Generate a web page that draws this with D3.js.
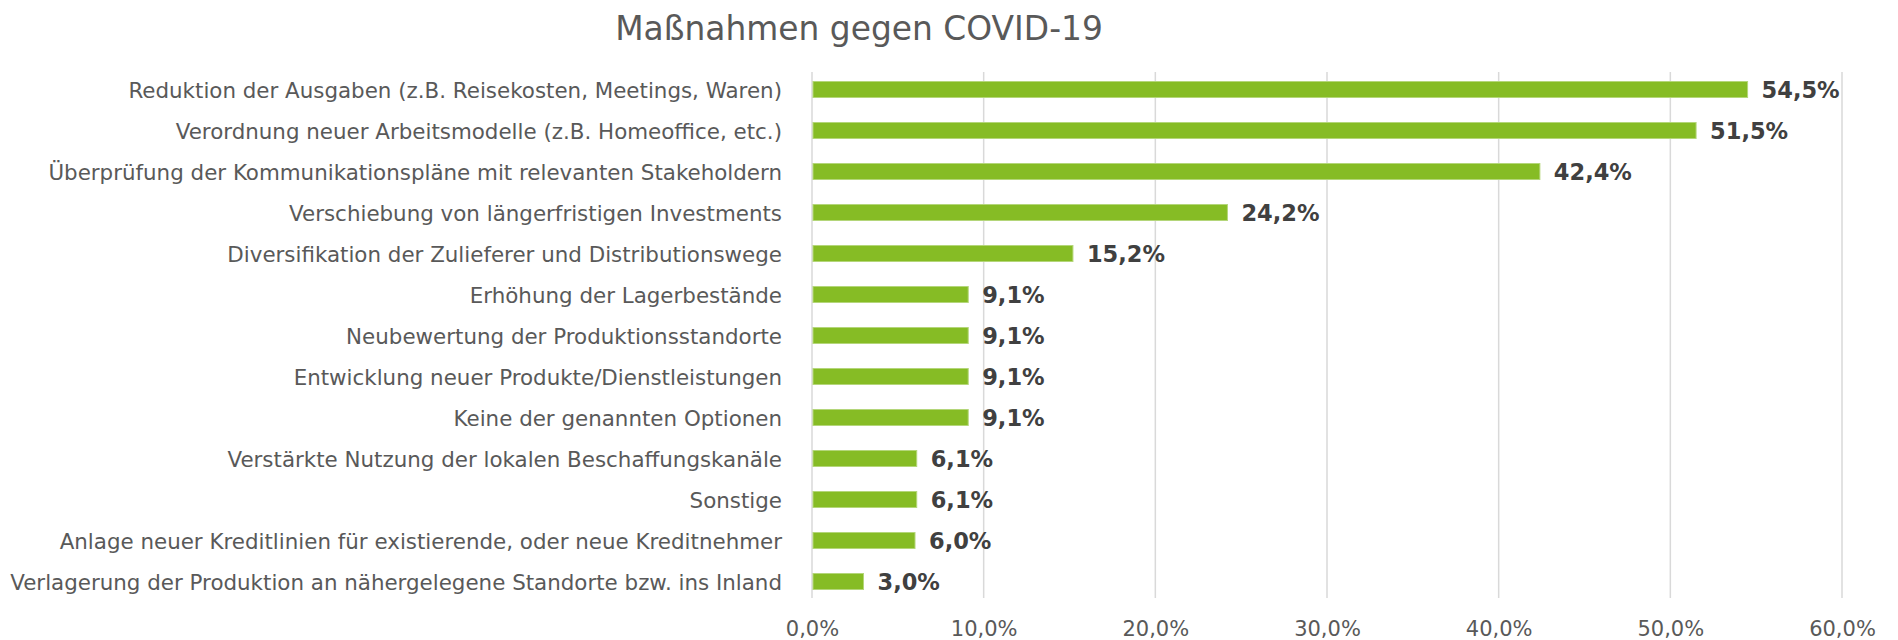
<!DOCTYPE html>
<html>
<head>
<meta charset="utf-8">
<script src="https://cdn.jsdelivr.net/npm/d3@7"></script>
<style>
  body { margin: 0; background: #fff; }
  svg { display: block; font-family: "DejaVu Sans", Verdana, sans-serif; }
</style>
</head>
<body>
<div id="chart"></div>
<script>
var title = "Maßnahmen gegen COVID-19";

var categories = [
  "Reduktion der Ausgaben (z.B. Reisekosten, Meetings, Waren)",
  "Verordnung neuer Arbeitsmodelle (z.B. Homeoffice, etc.)",
  "Überprüfung der Kommunikationspläne mit relevanten Stakeholdern",
  "Verschiebung von längerfristigen Investments",
  "Diversifikation der Zulieferer und Distributionswege",
  "Erhöhung der Lagerbestände",
  "Neubewertung der Produktionsstandorte",
  "Entwicklung neuer Produkte/Dienstleistungen",
  "Keine der genannten Optionen",
  "Verstärkte Nutzung der lokalen Beschaffungskanäle",
  "Sonstige",
  "Anlage neuer Kreditlinien für existierende, oder neue Kreditnehmer",
  "Verlagerung der Produktion an nähergelegene Standorte bzw. ins Inland"
];

var values = [54.5, 51.5, 42.4, 24.2, 15.2, 9.1, 9.1, 9.1, 9.1, 6.1, 6.1, 6.0, 3.0];

var ticks = [0, 10, 20, 30, 40, 50, 60];

var w = 1898, h = 640;
var mLeft = 812, mRight = 1842, mTop = 69, mBottom = 602;

function pct(v) {
  return v.toFixed(1).replace(".", ",") + "%";
}

var svg = d3.select("#chart").append("svg")
  .attr("width", w)
  .attr("height", h);

var x = d3.scaleLinear().domain([0, 60]).range([mLeft, mRight]);
var y = d3.scaleBand().domain(categories).range([mTop, mBottom]).paddingInner(0.61).paddingOuter(0.305);

// gridlines
svg.append("g")
  .selectAll("line")
  .data(ticks)
  .enter().append("line")
  .attr("x1", function(d){ return x(d); })
  .attr("x2", function(d){ return x(d); })
  .attr("y1", 72)
  .attr("y2", 598)
  .style("stroke", "#d9d9d9")
  .style("stroke-width", 1.5);

// bars
svg.append("g")
  .selectAll("rect")
  .data(values)
  .enter().append("rect")
  .attr("x", x(0) + 1)
  .attr("y", function(d, i){ return y(categories[i]); })
  .attr("width", function(d){ return x(d) - x(0) - 1; })
  .attr("height", y.bandwidth())
  .style("fill", "#86bc25")
  .style("stroke", "#b4d67a")
  .style("stroke-width", 1);

// value labels
svg.append("g")
  .selectAll("text")
  .data(values)
  .enter().append("text")
  .attr("x", function(d){ return x(d) + 14; })
  .attr("y", function(d, i){ return y(categories[i]) + y.bandwidth() / 2; })
  .attr("dy", "0.37em")
  .style("font-size", "22.5px")
  .style("font-weight", "bold")
  .style("fill", "#404040")
  .text(pct);

// category labels
svg.append("g")
  .selectAll("text")
  .data(categories)
  .enter().append("text")
  .attr("x", 782)
  .attr("y", function(d){ return y(d) + y.bandwidth() / 2; })
  .attr("dy", "0.38em")
  .attr("text-anchor", "end")
  .style("font-size", "21.4px")
  .style("fill", "#595959")
  .text(function(d){ return d; });

// x axis
var axis = d3.axisBottom(x)
  .tickValues(ticks)
  .tickSize(0)
  .tickPadding(0)
  .tickFormat(pct);

var ax = svg.append("g")
  .attr("transform", "translate(0,628)")
  .call(axis);
ax.select(".domain").remove();
ax.selectAll("text")
  .attr("dy", "0.36em")
  .style("font-family", "DejaVu Sans, Verdana, sans-serif")
  .style("font-size", "21px")
  .style("fill", "#595959");

// title
svg.append("text")
  .attr("x", 859)
  .attr("y", 40)
  .attr("text-anchor", "middle")
  .style("font-size", "32.9px")
  .style("fill", "#595959")
  .text(title);
</script>
</body>
</html>
